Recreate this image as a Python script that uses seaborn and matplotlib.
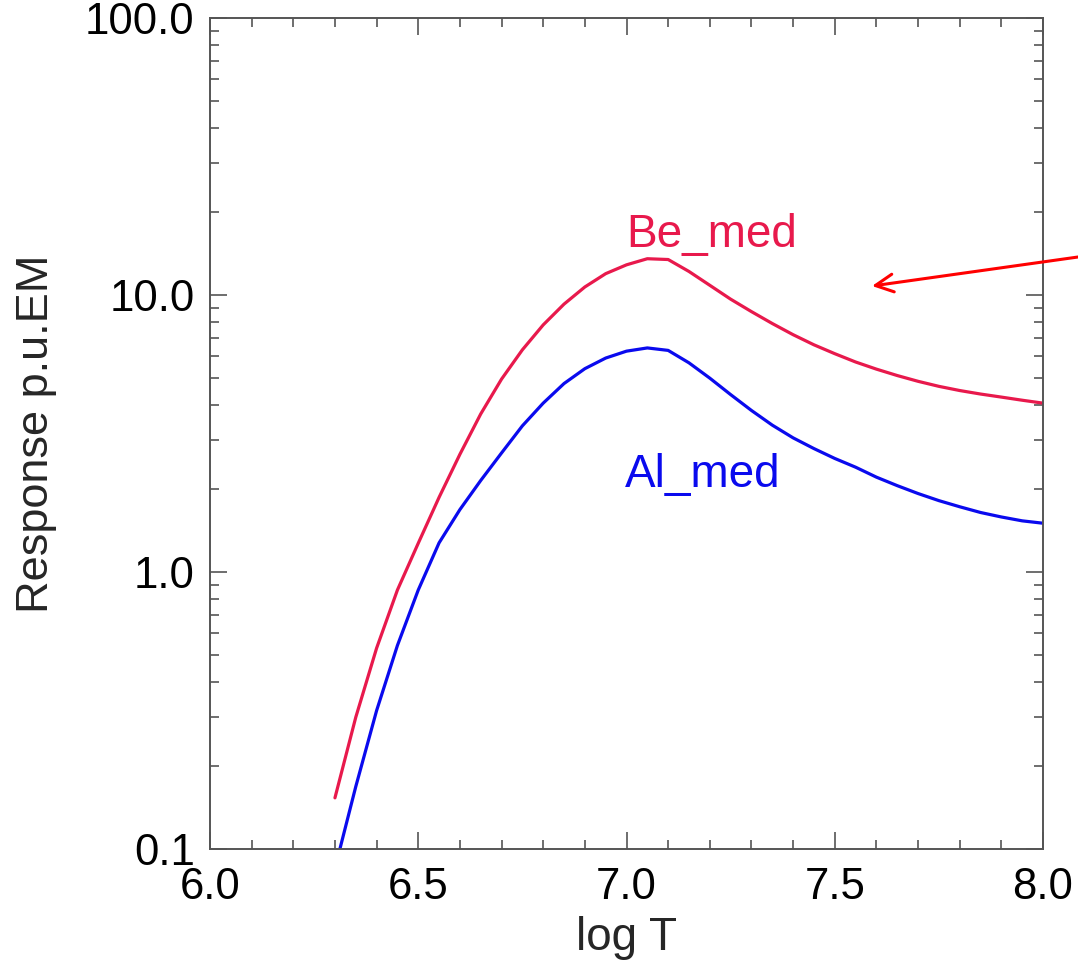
import numpy as np
import pandas as pd
import matplotlib
matplotlib.use("Agg")
import matplotlib.pyplot as plt
from matplotlib.ticker import FixedLocator, FixedFormatter, NullFormatter
import seaborn as sns

# ---- data ----
log_t = [6.30, 6.35, 6.40, 6.45, 6.50, 6.55, 6.60, 6.65, 6.70, 6.75, 6.80, 6.85,
         6.90, 6.95, 7.00, 7.05, 7.10, 7.15, 7.20, 7.25, 7.30, 7.35, 7.40, 7.45,
         7.50, 7.55, 7.60, 7.65, 7.70, 7.75, 7.80, 7.85, 7.90, 7.95, 8.00]
be_med = [0.153, 0.299, 0.531, 0.861, 1.27, 1.86, 2.66, 3.72, 4.97, 6.34, 7.80, 9.27,
          10.69, 11.94, 12.85, 13.52, 13.43, 12.16, 10.84, 9.66, 8.71, 7.89, 7.19, 6.61,
          6.14, 5.73, 5.40, 5.12, 4.88, 4.68, 4.52, 4.39, 4.28, 4.17, 4.07]
al_med = [0.0851, 0.168, 0.316, 0.543, 0.861, 1.274, 1.68, 2.14, 2.69, 3.37, 4.07, 4.79,
          5.42, 5.92, 6.27, 6.44, 6.31, 5.69, 5.01, 4.37, 3.83, 3.39, 3.05, 2.79,
          2.57, 2.39, 2.20, 2.05, 1.92, 1.81, 1.72, 1.64, 1.58, 1.53, 1.50]
series_names = ["Be_med", "Al_med"]
x_ticks = [6.0, 6.5, 7.0, 7.5, 8.0]
x_tick_labels = ["6.0", "6.5", "7.0", "7.5", "8.0"]
y_ticks = [0.1, 1.0, 10.0, 100.0]
y_tick_labels = ["0.1", "1.0", "10.0", "100.0"]

df = pd.DataFrame({
    "logT": log_t + log_t,
    "resp": be_med + al_med,
    "series": [series_names[0]] * len(log_t) + [series_names[1]] * len(log_t),
})

RED = "#E8194C"
BLUE = "#0A0AEE"

sns.set_theme(style="ticks")
plt.rcParams["font.family"] = ["Liberation Sans", "DejaVu Sans"]

fig = plt.figure(figsize=(10.78, 9.66), dpi=100)
ax = fig.add_axes([210 / 1078, 1 - 849 / 966, (1043 - 210) / 1078, (849 - 18) / 966])

sns.lineplot(data=df, x="logT", y="resp", hue="series",
             palette={"Be_med": RED, "Al_med": BLUE},
             linewidth=2.3, legend=False, ax=ax, sort=True)

ax.set_yscale("log")
ax.set_xlim(6.0, 8.0)
ax.set_ylim(0.1, 100.0)

ax.xaxis.set_major_locator(FixedLocator(x_ticks))
ax.xaxis.set_major_formatter(FixedFormatter(x_tick_labels))
ax.xaxis.set_minor_locator(FixedLocator(np.arange(6.0, 8.0001, 0.1)))
ax.xaxis.set_minor_formatter(NullFormatter())

ax.yaxis.set_major_locator(FixedLocator(y_ticks))
ax.yaxis.set_major_formatter(FixedFormatter(y_tick_labels))
minor_y = [m * 10.0 ** e for e in (-1, 0, 1) for m in range(2, 10)]
ax.yaxis.set_minor_locator(FixedLocator(minor_y))
ax.yaxis.set_minor_formatter(NullFormatter())

SPINE = "#555555"
for s in ax.spines.values():
    s.set_color(SPINE)
    s.set_linewidth(1.4)

ax.tick_params(which="both", direction="in", top=True, right=True,
               color=SPINE, width=1.2, labelsize=31.5, labelcolor="black")
ax.tick_params(axis="x", which="major", length=12, pad=13)
ax.tick_params(axis="x", which="minor", length=6.5)
ax.tick_params(axis="y", which="major", length=12, pad=11)
ax.tick_params(axis="y", which="minor", length=6.5)

ax.set_xlabel("log T", fontsize=33, labelpad=6)
ax.set_ylabel("Response p.u.EM", fontsize=32.5, labelpad=20)

ax.text(7.205, 14.9, "Be_med", color=RED, fontsize=33, ha="center", va="baseline")
ax.text(7.184, 2.03, "Al_med", color=BLUE, fontsize=33, ha="center", va="baseline")

ax.annotate("", xy=(872 / 1078, 1 - 286 / 966), xytext=(1.0, 1 - 257 / 966),
            xycoords="figure fraction", textcoords="figure fraction",
            arrowprops=dict(arrowstyle="->", color="#FF0000", lw=2.2,
                            mutation_scale=32, shrinkA=0, shrinkB=0))

fig.savefig("out.png", dpi=100, facecolor="white")
